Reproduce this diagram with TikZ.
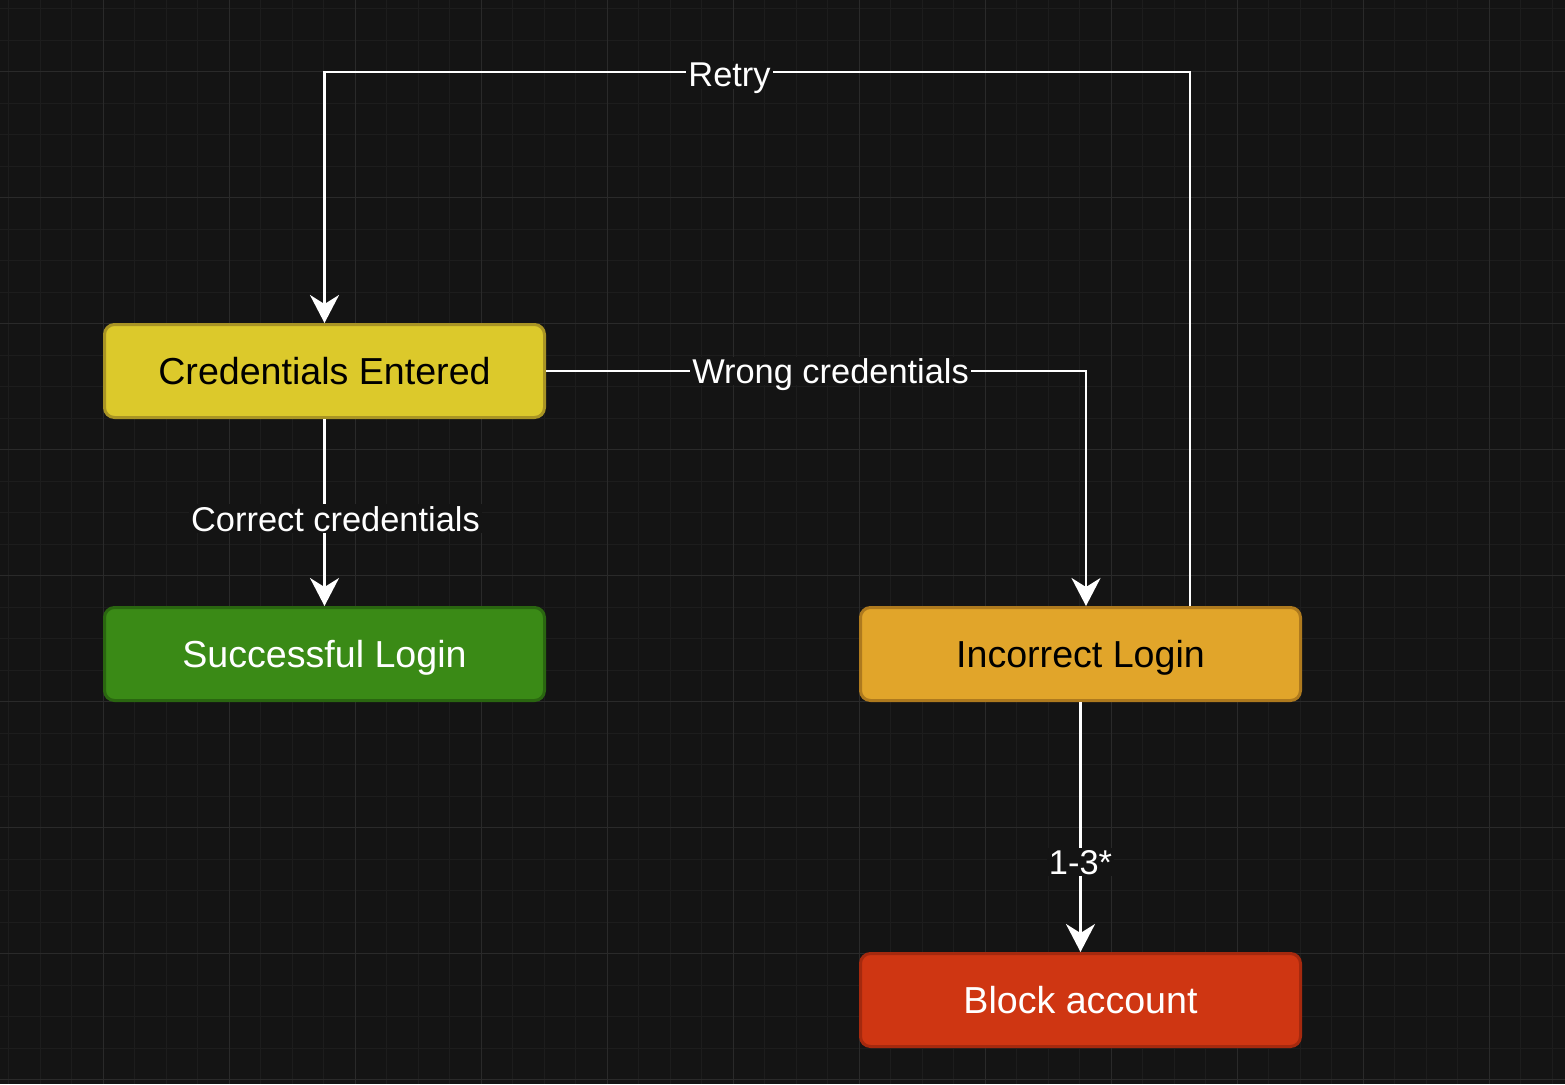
\documentclass[tikz,border=0pt]{standalone}
\usepackage{fontspec}
\setmainfont{Liberation Sans}
\usetikzlibrary{arrows.meta}

\definecolor{bg}{HTML}{141414}
\definecolor{gridminor}{HTML}{1D1D1D}
\definecolor{gridmajor}{HTML}{2A2A2A}
\definecolor{yelfill}{HTML}{DCC92B}
\definecolor{yeldraw}{HTML}{A99424}
\definecolor{grnfill}{HTML}{3A8A16}
\definecolor{grndraw}{HTML}{2A6610}
\definecolor{orgfill}{HTML}{E1A52A}
\definecolor{orgdraw}{HTML}{AE7A1E}
\definecolor{redfill}{HTML}{CF3612}
\definecolor{reddraw}{HTML}{A5290E}

\tikzset{
  state/.style={rounded corners=5pt, line width=1.5pt, minimum width=220pt,
    minimum height=46.5pt, inner sep=0pt, text depth=0pt,
    font=\fontsize{18.8}{22}\selectfont},
  flow/.style={draw=white, line width=1.35pt,
    -{Stealth[length=14pt,width=14.5pt,inset=4.5pt]}},
  lbl/.style={fill=bg, text=white, inner sep=1pt, text depth=0pt,
    font=\fontsize{17.2}{20}\selectfont},
}

\begin{document}
\begin{tikzpicture}[x=0.5pt,y=-0.5pt]
  % canvas and grid
  \fill[bg] (0,0) rectangle (1565,1084);
  \useasboundingbox (0,0) rectangle (1565,1084);
  \foreach \g in {-23,8.5,...,1570} {
    \draw[gridminor, line width=0.5pt] (\g,0) -- (\g,1084);
  }
  \foreach \g in {-23,8.5,...,1090} {
    \draw[gridminor, line width=0.5pt] (0,\g) -- (1565,\g);
  }
  \foreach \g in {103,229,...,1565} {
    \draw[gridmajor, line width=0.5pt] (\g,0) -- (\g,1084);
  }
  \foreach \g in {71,197,...,1084} {
    \draw[gridmajor, line width=0.5pt] (0,\g) -- (1565,\g);
  }

  % states
  \node[state, fill=yelfill, draw=yeldraw, text=black] (ce) at (324.5,371) {Credentials Entered};
  \node[state, fill=grnfill, draw=grndraw, text=white] (sl) at (324.5,654) {Successful Login};
  \node[state, fill=orgfill, draw=orgdraw, text=black] (il) at (1080.5,654) {Incorrect Login};
  \node[state, fill=redfill, draw=reddraw, text=white] (ba) at (1080.5,1000) {Block account};

  % routing points
  \coordinate (rr) at (1190,72);
  \coordinate (rl) at (324.5,72);
  \coordinate (wc) at (1086,371);

  % transitions
  \draw[flow] (rr |- il.north) -- (rr) -- node[lbl, pos=0.532, yshift=-1.5pt] (lretry) {Retry} (rl) -- (ce.north);
  \draw[flow] (ce.east) -- node[lbl, pos=0.527] (lwrong) {Wrong credentials} (wc) -- (wc |- il.north);
  \draw[flow] (ce.south) -- node[lbl, pos=0.534, xshift=5.5pt] (lcorrect) {Correct credentials} (sl.north);
  \draw[flow] (il.south) -- node[lbl, pos=0.64] (lcount) {1-3*} (ba.north);
\end{tikzpicture}
\end{document}
